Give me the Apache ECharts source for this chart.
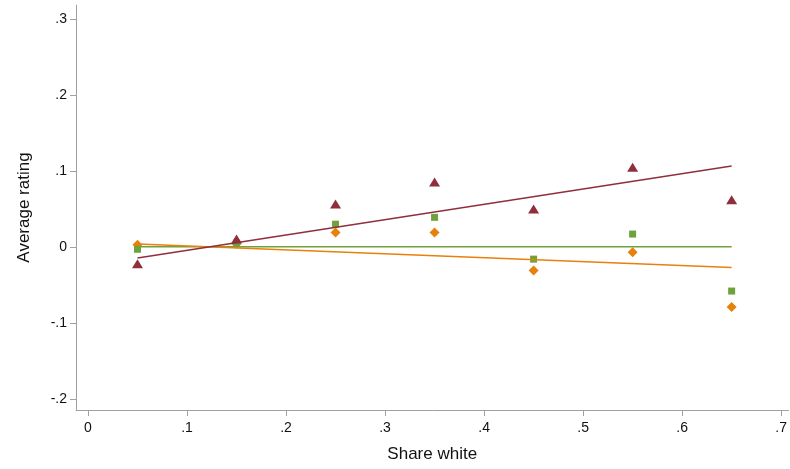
<!DOCTYPE html>
<html><head><meta charset="utf-8">
<script src="https://cdn.jsdelivr.net/npm/echarts@6/dist/echarts.min.js"></script>
<style>html,body{margin:0;padding:0;background:#fff}#c{width:790px;height:469px}</style>
</head><body><div id="c"></div>
<script>
const shareWhite = [0.05, 0.15, 0.25, 0.35, 0.45, 0.55, 0.65];
const maroonVals = [-0.022, 0.0105, 0.0565, 0.0855, 0.050, 0.105, 0.062];
const greenVals  = [-0.003, 0.005, 0.030, 0.039, -0.016, 0.017, -0.058];
const orangeVals = [0.003, 0.004, 0.019, 0.019, -0.031, -0.007, -0.079];
const fitX = [0.05, 0.65];
const maroonFit = [-0.0145, 0.1065];
const greenFit = [0.0004, 0.0004];
const orangeFit = [0.004, -0.027];
const xTicks = [0, 0.1, 0.2, 0.3, 0.4, 0.5, 0.6, 0.7];
const yTicks = [-0.2, -0.1, 0, 0.1, 0.2, 0.3];

const C_MAROON = '#8f2f3b', C_GREEN = '#6ea23c', C_ORANGE = '#e8800c';
const pair = (xs, ys) => xs.map((x, i) => [x, ys[i]]);
const fmt = v => { const r = Math.round(v * 10) / 10; if (r === 0) return '0'; return (r < 0 ? '-' : '') + '.' + Math.round(Math.abs(r) * 10); };
const nameStyle = { fontFamily: 'Liberation Sans, Arial', fontSize: 17, color: '#111' };
const chart = echarts.init(document.getElementById('c'), null, { renderer: 'canvas' });
chart.setOption({
  animation: false,
  grid: { left: 76, top: 5, right: 0, bottom: 59, containLabel: false },
  xAxis: {
    type: 'value', min: -0.0121, max: 0.7074,
    name: 'Share white', nameLocation: 'middle', nameGap: 36, nameTextStyle: nameStyle,
    splitLine: { show: false },
    axisLine: { show: true, onZero: false, lineStyle: { color: '#a0a0a0', width: 1 } },
    axisTick: { show: true, length: 6, lineStyle: { color: '#a0a0a0' }, customValues: xTicks },
    axisLabel: { customValues: xTicks, formatter: fmt, fontFamily: 'Liberation Sans, Arial', fontSize: 14, color: '#111', margin: 11 }
  },
  yAxis: {
    type: 'value', min: -0.2145, max: 0.3184,
    name: 'Average rating', nameLocation: 'middle', nameGap: 43, nameRotate: 90, nameTextStyle: nameStyle,
    splitLine: { show: false },
    axisLine: { show: true, onZero: false, lineStyle: { color: '#a0a0a0', width: 1 } },
    axisTick: { show: true, length: 6, lineStyle: { color: '#a0a0a0' }, customValues: yTicks },
    axisLabel: { customValues: yTicks, formatter: fmt, fontFamily: 'Liberation Sans, Arial', fontSize: 14, color: '#111', margin: 9 }
  },
  series: [
    { type: 'scatter', data: pair(shareWhite, orangeVals), symbol: 'diamond', symbolSize: 10, itemStyle: { color: C_ORANGE, opacity: 1 } },
    { type: 'scatter', data: pair(shareWhite, greenVals), symbol: 'rect', symbolSize: 7, itemStyle: { color: C_GREEN, opacity: 1 } },
    { type: 'scatter', data: pair(shareWhite, maroonVals), symbol: 'triangle', symbolSize: [11, 9], itemStyle: { color: C_MAROON, opacity: 1 } },
    { type: 'line', data: pair(fitX, greenFit), symbol: 'none', lineStyle: { color: C_GREEN, width: 1.5 } },
    { type: 'line', data: pair(fitX, orangeFit), symbol: 'none', lineStyle: { color: C_ORANGE, width: 1.5 } },
    { type: 'line', data: pair(fitX, maroonFit), symbol: 'none', lineStyle: { color: C_MAROON, width: 1.5 } }
  ]
});
</script></body></html>
